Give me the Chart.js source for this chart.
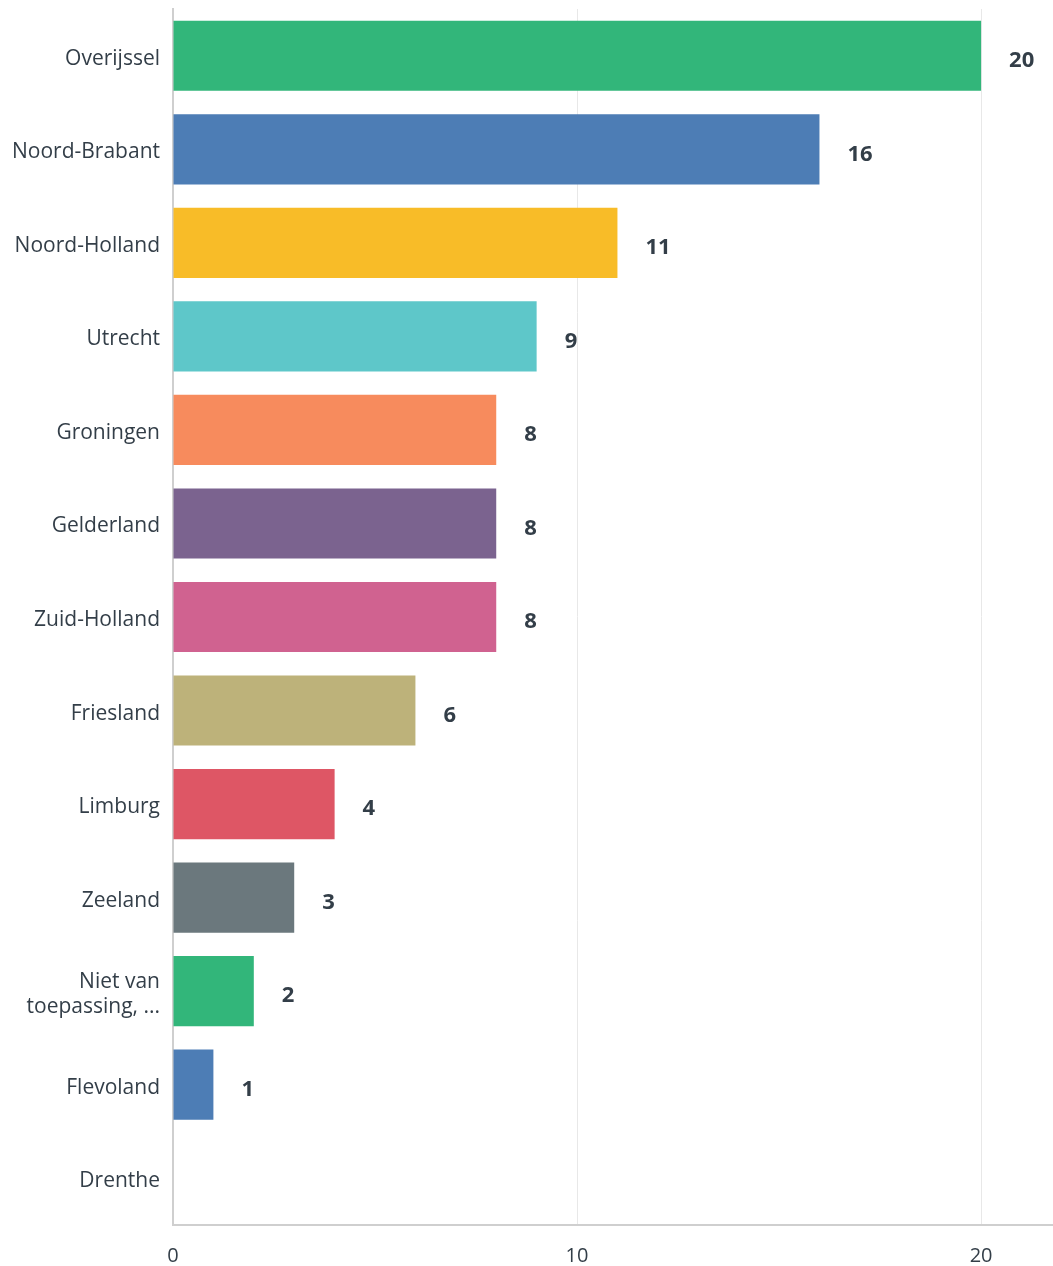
<!DOCTYPE html>
<html>
<head>
<meta charset="utf-8">
<script src="https://cdn.jsdelivr.net/npm/chart.js@4"></script>
<style>
html,body{margin:0;padding:0;background:#fff;}
#wrap{width:1053px;height:1266px;position:relative;}
</style>
</head>
<body>
<div id="wrap"><canvas id="c"></canvas></div>
<script>
const categories = [
  "Overijssel", "Noord-Brabant", "Noord-Holland", "Utrecht", "Groningen",
  "Gelderland", "Zuid-Holland", "Friesland", "Limburg", "Zeeland",
  ["Niet van", "toepassing, ..."], "Flevoland", "Drenthe"
];
const values = [20, 16, 11, 9, 8, 8, 8, 6, 4, 3, 2, 1, 0];
const barColors = [
  "#32b67a", "#4d7db5", "#f8bc28", "#5ec7c9", "#f78b5d",
  "#7b638f", "#d06290", "#bdb27a", "#de5665", "#6b787d",
  "#32b67a", "#4d7db5", "#f8bc28"
];
const xTicks = [0, 10, 20];

const textColor = "#333e48";
const fontFamily = "'Open Sans', 'Noto Sans', sans-serif";

const valueLabels = {
  id: "valueLabels",
  afterDatasetsDraw(chart) {
    const ctx = chart.ctx;
    const meta = chart.getDatasetMeta(0);
    ctx.save();
    ctx.font = "bold 22px " + fontFamily;
    ctx.fillStyle = textColor;
    ctx.textAlign = "left";
    ctx.textBaseline = "middle";
    meta.data.forEach((bar, i) => {
      const v = values[i];
      if (v > 0) ctx.fillText(String(v), bar.x + 28, bar.y + 5);
    });
    ctx.restore();
  }
};

new Chart(document.getElementById("c"), {
  type: "bar",
  data: {
    labels: categories,
    datasets: [{
      data: values,
      backgroundColor: barColors,
      borderWidth: 0,
      categoryPercentage: 0.75,
      barPercentage: 1.0
    }]
  },
  plugins: [valueLabels],
  options: {
    indexAxis: "y",
    responsive: true,
    maintainAspectRatio: false,
    animation: false,
    layout: { padding: { top: 9, right: 0, bottom: 0, left: 0 } },
    plugins: { legend: { display: false }, tooltip: { enabled: false } },
    scales: {
      x: {
        min: 0,
        max: 21.78,
        afterBuildTicks(scale) { scale.ticks = xTicks.map(v => ({ value: v })); },
        afterFit(scale) { scale.height = 41; scale.paddingLeft = 0; scale.paddingRight = 0; },
        grid: { color: "#e8e8e8", lineWidth: 1, drawTicks: false },
        border: { display: true, color: "#cfcfcf", width: 2 },
        ticks: {
          color: textColor,
          font: { family: fontFamily, size: 20 },
          padding: 19
        }
      },
      y: {
        afterFit(scale) { scale.width = 173; scale.paddingTop = 0; scale.paddingBottom = 0; },
        grid: { display: false, drawTicks: false },
        border: { display: true, color: "#cfcfcf", width: 2 },
        ticks: {
          color: textColor,
          font: { family: fontFamily, size: 21 },
          padding: 13,
          labelOffset: 3
        }
      }
    }
  }
});
</script>
</body>
</html>
